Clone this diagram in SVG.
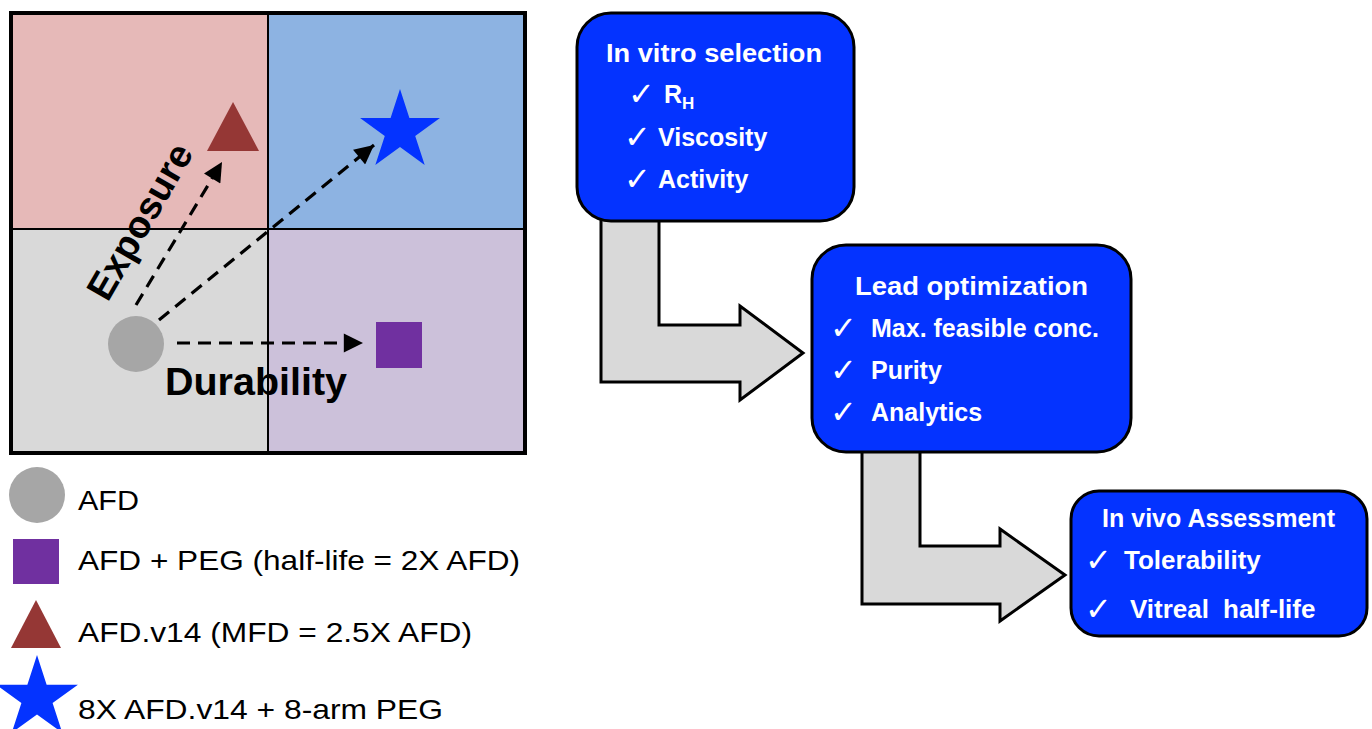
<svg xmlns="http://www.w3.org/2000/svg" width="1372" height="729" viewBox="0 0 1372 729">
<style>
.t{font-family:"Liberation Sans",Arial,sans-serif;}
.b{font-family:"Liberation Sans",Arial,sans-serif;font-weight:bold;}
.w{fill:#ffffff;}
.ck{font-family:"DejaVu Sans",sans-serif;font-size:32px;fill:#ffffff;}
.box{fill:#0433ff;stroke:#000;stroke-width:3;}
.big{fill:#d9d9d9;stroke:#000;stroke-width:3;stroke-linejoin:miter;}
.dash{fill:none;stroke:#000;stroke-width:3.2;stroke-dasharray:13 8;}
.leg{font-size:28px;fill:#000;}
</style>
<defs>
<marker id="ah" viewBox="0 0 10 10" refX="10" refY="5" markerWidth="6.5" markerHeight="6" orient="auto" markerUnits="strokeWidth">
<path d="M0,0 L10,5 L0,10 Z" fill="#000"/>
</marker>
</defs>
<rect width="1372" height="729" fill="#ffffff"/>

<g id="quadrant-chart">
<rect x="11" y="13" width="257" height="216" fill="#e6b9b8"/>
<rect x="268" y="13" width="257" height="216" fill="#8db3e2"/>
<rect x="11" y="229" width="257" height="224" fill="#d9d9d9"/>
<rect x="268" y="229" width="257" height="224" fill="#ccc1da"/>
<line x1="268" y1="13" x2="268" y2="453" stroke="#000" stroke-width="2"/>
<line x1="11" y1="229" x2="525" y2="229" stroke="#000" stroke-width="2"/>
<rect x="11" y="13" width="514" height="440" fill="none" stroke="#000" stroke-width="4"/>
</g>

<g id="node-afd"><circle cx="136" cy="344" r="28" fill="#a6a6a6"/></g>
<g id="node-afd-peg"><rect x="376" y="322" width="46" height="46" fill="#7030a0"/></g>
<g id="node-afd-v14"><polygon points="233,102 259,151 207,151" fill="#953735"/></g>
<g id="node-8x"><polygon points="400,89 409.4,118.06 439.95,118.02 415.22,135.94 424.69,164.98 400,147 375.31,164.98 384.78,135.94 360.05,118.02 390.6,118.06" fill="#0433ff"/></g>

<g id="connectors">
<line class="dash" x1="136" y1="305" x2="222" y2="162" marker-end="url(#ah)"/>
<line class="dash" x1="159" y1="320" x2="374" y2="145" marker-end="url(#ah)"/>
<line class="dash" x1="177" y1="343" x2="363" y2="343" marker-end="url(#ah)"/>
<path class="big" d="M601,215 L659,215 L659,325 L740,325 L740,306 L803,353 L740,400 L740,382 L601,382 Z"/>
<path class="big" d="M862,445 L920,445 L920,546 L1000,546 L1000,529 L1065,575 L1000,621 L1000,604 L862,604 Z"/>
</g>

<g id="axis-labels">
<text class="b" x="165" y="395" font-size="38" textLength="182" lengthAdjust="spacingAndGlyphs">Durability</text>
<text class="b" font-size="38" text-anchor="middle" transform="translate(151,228) rotate(-60)">Exposure</text>
</g>

<g id="legend">
<circle cx="37" cy="495" r="28" fill="#a6a6a6"/>
<text class="t leg" x="78" y="510" textLength="61" lengthAdjust="spacingAndGlyphs">AFD</text>
<rect x="13" y="539" width="46" height="45" fill="#7030a0"/>
<text class="t leg" x="78" y="570" textLength="442" lengthAdjust="spacingAndGlyphs">AFD + PEG (half-life = 2X AFD)</text>
<polygon points="36,600 61,648 11,648" fill="#953735"/>
<text class="t leg" x="78" y="642" textLength="394" lengthAdjust="spacingAndGlyphs">AFD.v14 (MFD = 2.5X AFD)</text>
<polygon points="37,655 46.64,684.73 77.9,684.71 52.6,703.07 62.28,732.79 37,714.4 11.72,732.79 21.4,703.07 -3.9,684.71 27.36,684.73" fill="#0433ff"/>
<text class="t leg" x="78" y="719" textLength="365" lengthAdjust="spacingAndGlyphs">8X AFD.v14 + 8-arm PEG</text>
</g>

<g id="node-in-vitro">
<rect class="box" x="577" y="13" width="277" height="208" rx="34"/>
<text class="b w" x="606" y="62" font-size="26" textLength="216" lengthAdjust="spacingAndGlyphs">In vitro selection</text>
<text class="ck" x="628" y="105">✓</text>
<text class="b w" x="664" y="103" font-size="25">R<tspan font-size="17" dy="6">H</tspan></text>
<text class="ck" x="624" y="148">✓</text>
<text class="b w" x="658" y="146" font-size="25">Viscosity</text>
<text class="ck" x="624" y="190">✓</text>
<text class="b w" x="658" y="188" font-size="25">Activity</text>
</g>

<g id="node-lead">
<rect class="box" x="812" y="245" width="319" height="207" rx="34"/>
<text class="b w" x="971.5" y="295" font-size="26" text-anchor="middle" textLength="233" lengthAdjust="spacingAndGlyphs">Lead optimization</text>
<text class="ck" x="830" y="339">✓</text>
<text class="b w" x="871" y="337" font-size="25">Max. feasible conc.</text>
<text class="ck" x="830" y="381">✓</text>
<text class="b w" x="871" y="379" font-size="25">Purity</text>
<text class="ck" x="830" y="423">✓</text>
<text class="b w" x="871" y="421" font-size="25">Analytics</text>
</g>

<g id="node-in-vivo">
<rect class="box" x="1071" y="491" width="296" height="145" rx="28"/>
<text class="b w" x="1102" y="527" font-size="25" textLength="233" lengthAdjust="spacingAndGlyphs">In vivo Assessment</text>
<text class="ck" x="1085" y="571">✓</text>
<text class="b w" x="1124" y="569" font-size="26">Tolerability</text>
<text class="ck" x="1085" y="620">✓</text>
<text class="b w" x="1130" y="618" font-size="26">Vitreal <tspan x="1223">half-life</tspan></text>
</g>
</svg>
